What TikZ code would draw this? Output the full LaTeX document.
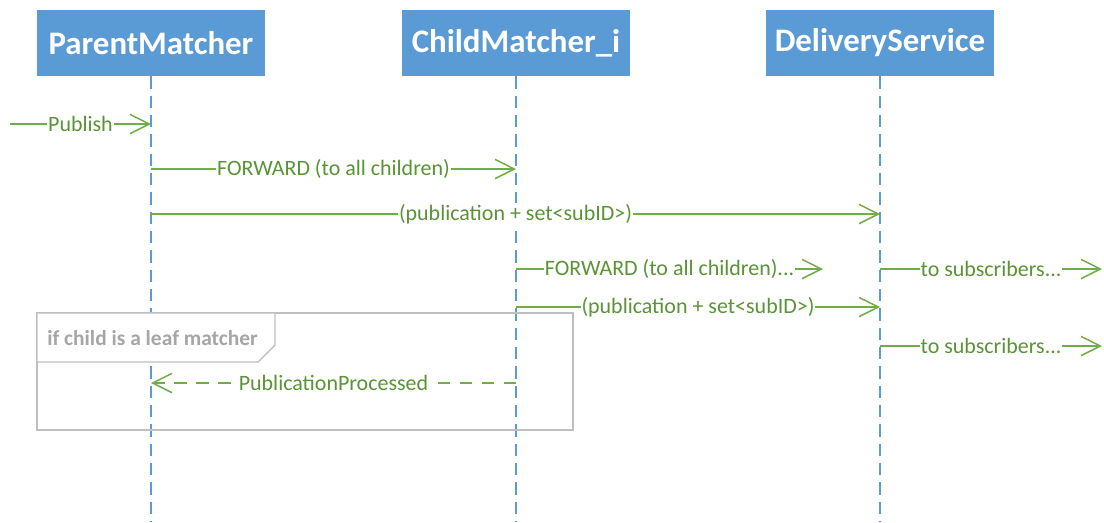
\documentclass[tikz,border=0pt]{standalone}
\usepackage{fontspec}
\setmainfont{Carlito}
\usetikzlibrary{arrows.meta}
\definecolor{headblue} {HTML}{5B9BD5}
\definecolor{msggreen} {HTML}{70AD47}
\definecolor{msgtext}  {HTML}{5A9436}
\definecolor{framegray}{HTML}{BFBFBF}
\definecolor{tabgray}  {HTML}{A6A6A6}

\tikzset{
  actor/.style={fill=headblue,text=white,font=\fontsize{18.7}{20}\selectfont\bfseries,
                minimum width=4.56cm,minimum height=1.32cm,inner sep=0pt},
  lifeline/.style={draw=headblue,line width=0.8pt,dash pattern=on 7pt off 4pt},
  msg/.style={draw=msggreen,line width=0.85pt,-{Straight Barb[length=11pt,width=11pt,line width=0.85pt]}},
  reply/.style={msg,dash pattern=on 7pt off 5.5pt},
  msglabel/.style={fill=white,text=msgtext,inner sep=0.5pt,font=\fontsize{12.5}{14}\selectfont}
}

\begin{document}
\begin{tikzpicture}[x=0.02cm,y=-0.02cm]
  \useasboundingbox (0,0) rectangle (1104,522);

  % participants
  \node[actor] (pm) at (151,43) {ParentMatcher};
  \node[actor] (cm) at (516,43) {ChildMatcher\_i};
  \node[actor] (ds) at (880,43) {DeliveryService};

  % lifelines
  \coordinate (pmEnd) at (151,522);
  \coordinate (cmEnd) at (516,522);
  \coordinate (dsEnd) at (880,522);
  \draw[lifeline] (pm.south) -- (pmEnd);
  \draw[lifeline] (cm.south) -- (cmEnd);
  \draw[lifeline] (ds.south) -- (dsEnd);

  % points on the lifelines
  \coordinate (in)   at (10,124);
  \coordinate (pm1)  at (151,124);
  \coordinate (pm2)  at (151,169);
  \coordinate (cm2)  at (516,169);
  \coordinate (pm3)  at (151,214);
  \coordinate (ds3)  at (880,214);
  \coordinate (cm4)  at (516,269);
  \coordinate (fw4)  at (823,269);
  \coordinate (ds4)  at (880,269);
  \coordinate (out4) at (1102,269);
  \coordinate (cm5)  at (516,307);
  \coordinate (ds5)  at (880,307);
  \coordinate (ds6)  at (880,346);
  \coordinate (out6) at (1102,346);
  \coordinate (cm7)  at (516,383);
  \coordinate (pm7)  at (151,383);

  % alt frame, the tab hides the lifeline behind it
  \draw[framegray,line width=0.8pt] (37,313) rectangle (573,430);
  \draw[framegray,line width=0.8pt,fill=white]
    (37,313) -- (37,362) -- (258,362) -- (275,345) -- (275,313) -- cycle;
  \node[anchor=west,text=tabgray,font=\fontsize{12.2}{14}\selectfont\bfseries,inner sep=0pt]
    (cond) at (47,338) {if child is a leaf matcher};

  % messages
  \draw[msg] (in) -- node[msglabel] {Publish} (pm1);
  \draw[msg] (pm2) -- node[msglabel] {FORWARD (to all children)} (cm2);
  \draw[msg] (pm3) -- node[msglabel] {(publication + set<subID>)} (ds3);
  \draw[msg] (cm4) -- node[msglabel] {FORWARD (to all children)...} (fw4);
  \draw[msg] (ds4) -- node[msglabel] {to subscribers...} (out4);
  \draw[msg] (cm5) -- node[msglabel] {(publication + set<subID>)} (ds5);
  \draw[msg] (ds6) -- node[msglabel] {to subscribers...} (out6);
  \draw[reply] (cm7) -- node[msglabel] {PublicationProcessed} (pm7);
\end{tikzpicture}
\end{document}
